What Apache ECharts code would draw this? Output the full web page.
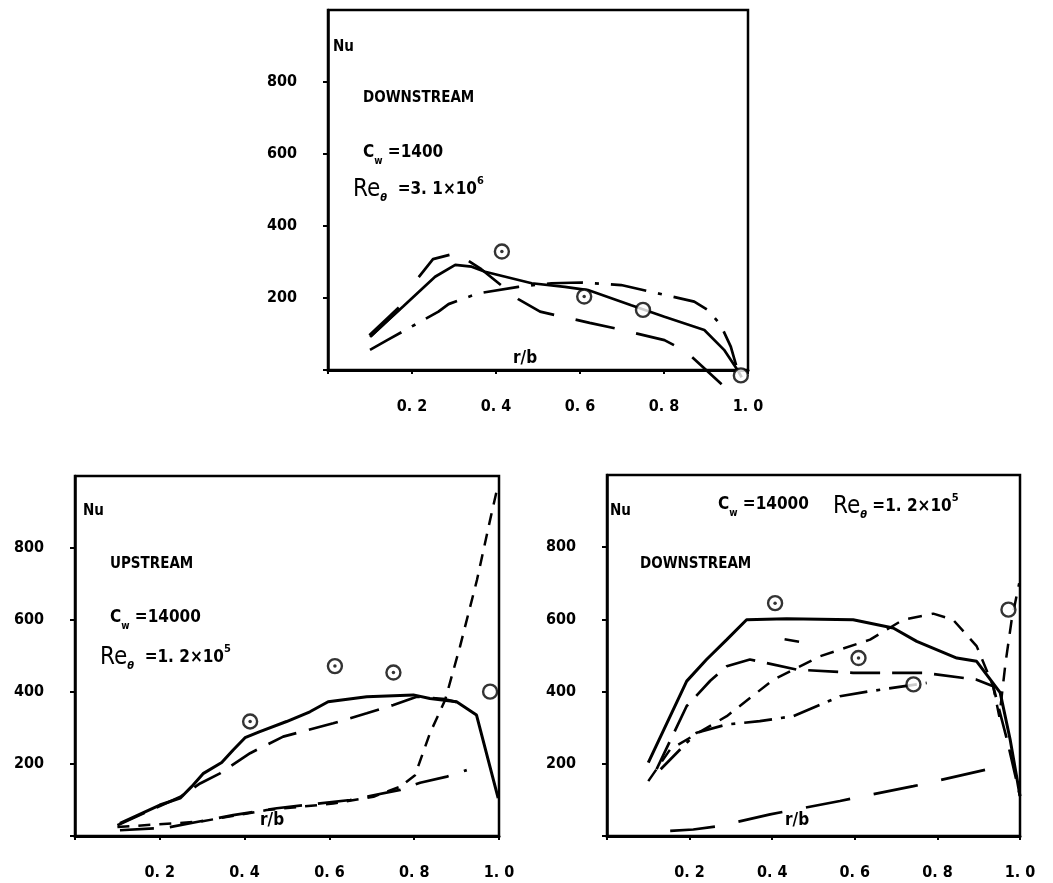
<!DOCTYPE html>
<html><head><meta charset="utf-8">
<script src="https://cdn.jsdelivr.net/npm/echarts@6/dist/echarts.min.js"></script>
<style>html,body{margin:0;padding:0;background:#fff}#c{width:1053px;height:883px}</style>
</head><body><div id="c"></div>
<script>
// tick labels
const xTicks = ['', '0. 2', '0. 4', '0. 6', '0. 8', '1. 0'];
const yTicks = ['', '200', '400', '600', '800', ''];
const yTickValues = [0, 200, 400, 600, 800];

// ---- Top panel: DOWNSTREAM, Cw=1400, Re=3.1e6 ----
const topSolid = [[0.10,92],[0.18,178],[0.255,259],[0.303,292],[0.342,287],[0.374,273],[0.485,241],[0.564,231],[0.619,222],[0.722,180],[0.801,148],[0.896,111],[0.943,56],[0.975,0],[0.985,-20]];
const topSolidBold = [[0.10,95],[0.17,172]];
const topLongDash = [[0.216,258],[0.25,308],[0.306,325],[0.365,280],[0.453,197],[0.505,162],[0.623,131],[0.683,116],[0.801,83],[0.853,51],[0.943,-46]];
const topChain = [[0.10,56],[0.141,83],[0.263,162],[0.287,183],[0.358,213],[0.453,231],[0.532,241],[0.603,243],[0.698,236],[0.785,213],[0.872,190],[0.904,167],[0.935,125],[0.959,65],[0.975,0]];
const topCircles = [[0.414,329],[0.610,204],[0.750,167],[0.983,-15]];
const topDots = [[0.414,329],[0.610,204]];

// ---- Bottom-left: UPSTREAM, Cw=14000, Re=1.2e5 ----
const blSolid = [[0.106,35],[0.20,86],[0.248,105],[0.275,137],[0.303,174],[0.346,204],[0.373,239],[0.401,273],[0.436,290],[0.499,318],[0.554,345],[0.597,373],[0.688,387],[0.798,392],[0.837,382],[0.90,373],[0.947,336],[0.998,105]];
const blLongDash = [[0.10,30],[0.25,110],[0.295,146],[0.342,174],[0.413,230],[0.491,276],[0.609,313],[0.688,341],[0.751,364],[0.806,387],[0.873,380],[0.90,372]];
const blShortDash = [[0.10,25],[0.295,40],[0.452,72],[0.609,90],[0.704,109],[0.767,137],[0.802,169],[0.837,285],[0.873,378],[0.908,526],[0.948,711],[0.979,878],[0.995,961]];
const blLowDash = [[0.106,16],[0.216,23],[0.373,58],[0.476,77],[0.649,100],[0.767,128],[0.814,148],[0.877,165],[0.924,183]];
const blCircles = [[0.413,318],[0.613,472],[0.751,454],[0.979,401]];
const blDots = [[0.413,318],[0.613,472],[0.751,454]];

// ---- Bottom-right: DOWNSTREAM, Cw=14000, Re=1.2e5 ----
const brSolid = [[0.10,203],[0.193,429],[0.241,489],[0.29,544],[0.338,599],[0.435,602],[0.596,599],[0.693,576],[0.75,539],[0.847,493],[0.895,484],[0.952,397],[0.976,268],[1.0,111]];
const brLongDash = [[0.12,185],[0.193,360],[0.25,430],[0.29,470],[0.346,489],[0.459,461],[0.596,452],[0.766,452],[0.895,433],[0.935,415],[0.97,260],[1.0,111]];
const brShortDash = [[0.10,152],[0.153,240],[0.29,332],[0.403,433],[0.516,498],[0.637,544],[0.717,599],[0.79,616],[0.838,599],[0.895,526],[0.935,415],[0.95,330],[0.965,480],[0.98,600],[0.998,700]];
const brChain = [[0.13,185],[0.217,286],[0.29,309],[0.37,318],[0.451,332],[0.564,387],[0.637,401],[0.774,424]];
const brFragment = [[0.43,545],[0.465,538]];
const brLowDash = [[0.153,14],[0.209,18],[0.274,28],[0.395,60],[0.564,97],[0.742,138],[0.919,184]];
const brCircles = [[0.407,645],[0.609,493],[0.742,420],[0.972,627]];
const brDots = [[0.407,645],[0.609,493]];

const FONT = "'DejaVu Sans Condensed','DejaVu Sans',sans-serif";
const grids = [
  {left:328, top:10, width:420, height:360},
  {left:75, top:476, width:424, height:360},
  {left:607, top:475, width:413, height:361}
];
const xAxes = grids.map((g,i)=>({
  type:'value', gridIndex:i, min:0, max:1, interval:0.2,
  axisLine:{show:true, onZero:false, lineStyle:{color:'#000', width:3}},
  axisTick:{show:true, length:4, lineStyle:{color:'#000', width:2}},
  splitLine:{show:false},
  axisLabel:{margin:29, color:'#000', fontFamily:FONT, fontSize:16, fontWeight:'bold',
    formatter:(v)=>xTicks[Math.round(v/0.2)]}
}));
const yAxes = grids.map((g,i)=>({
  type:'value', gridIndex:i, min:0, max:1000, interval:200,
  axisLine:{show:true, onZero:false, lineStyle:{color:'#000', width:2.5}},
  axisTick:{show:true, length:5, customValues:yTickValues, lineStyle:{color:'#000', width:2}},
  splitLine:{show:false},
  axisLabel:{margin:31, color:'#000', fontFamily:FONT, fontSize:16, fontWeight:'bold',
    formatter:(v)=>yTicks[Math.round(v/200)]}
}));

function line(data, gi, type, width, clip){
  return {type:'line', xAxisIndex:gi, yAxisIndex:gi, data, symbol:'none', silent:true,
    clip: clip, lineStyle:{color:'#000', width: width, type: type, cap:'butt'}};
}
function circles(data, gi){
  return {type:'scatter', xAxisIndex:gi, yAxisIndex:gi, data, symbol:'circle', symbolSize:14, clip:false, z:5,
    itemStyle:{color:'#fff', borderColor:'#000', borderWidth:2.4}};
}
function dots(data, gi){
  return {type:'scatter', xAxisIndex:gi, yAxisIndex:gi, data, symbol:'circle', symbolSize:3.5, clip:false, z:6,
    itemStyle:{color:'#000'}};
}

const series = [
  line(topSolid,0,'solid',2.7,false),
  line(topSolidBold,0,'solid',4.5,false),
  line(topLongDash,0,[40,22],2.7,false),
  line(topChain,0,[36,12,4,12],2.7,false),
  circles(topCircles,0), dots(topDots,0),

  line(blSolid,1,'solid',3,true),
  line(blLongDash,1,[30,13],2.7,true),
  line(blShortDash,1,[12,9],2.5,true),
  line(blLowDash,1,[34,16],2.7,true),
  circles(blCircles,1), dots(blDots,1),

  line(brSolid,2,'solid',3,true),
  line(brLongDash,2,[30,12],2.7,true),
  line(brShortDash,2,[14,10],2.5,true),
  line(brChain,2,[28,9,4,9],2.7,true),
  line(brFragment,2,'solid',2.7,true),
  line(brLowDash,2,[45,24],2.7,true),
  circles(brCircles,2), dots(brDots,2)
];

const rich = {
  n:{fontFamily:FONT, fontSize:17, fontWeight:'bold', color:'#000', lineHeight:26, verticalAlign:'middle'},
  s:{fontFamily:FONT, fontSize:10, fontWeight:'bold', color:'#000', lineHeight:4, verticalAlign:'bottom'},
  R:{fontFamily:FONT, fontSize:24, fontWeight:'normal', color:'#000', lineHeight:28, verticalAlign:'middle'},
  t:{fontFamily:FONT, fontSize:11, fontStyle:'italic', fontWeight:'bold', color:'#000', lineHeight:6, verticalAlign:'bottom'},
  m:{fontFamily:FONT, fontSize:17, fontWeight:'bold', color:'#000', lineHeight:28, verticalAlign:'middle'},
  p:{fontFamily:FONT, fontSize:11, fontWeight:'bold', color:'#000', lineHeight:18, verticalAlign:'top'}
};
function label(text, left, top, size){
  return {text, left, top, padding:0,
    textStyle:{fontFamily:FONT, fontSize:size||15, fontWeight:'bold', color:'#000', rich}};
}
const titles = [
  label('Nu', 333, 40, 15),
  label('DOWNSTREAM', 363, 91, 15),
  label('{n|C}{s|w}{n| =1400}', 363, 140),
  label('{R|Re}{t|θ}{m|  =3. 1×10}{p|6}', 353, 176),
  label('r/b', 513, 350, 17),

  label('Nu', 83, 504, 15),
  label('UPSTREAM', 110, 557, 15),
  label('{n|C}{s|w}{n| =14000}', 110, 605),
  label('{R|Re}{t|θ}{m|  =1. 2×10}{p|5}', 100, 644),
  label('r/b', 260, 812, 17),

  label('Nu', 610, 504, 15),
  label('{n|C}{s|w}{n| =14000}', 718, 492),
  label('{R|Re}{t|θ}{m| =1. 2×10}{p|5}', 833, 493),
  label('DOWNSTREAM', 640, 557, 15),
  label('r/b', 785, 812, 17)
];

const chart = echarts.init(document.getElementById('c'), null, {renderer:'canvas'});
chart.setOption({
  backgroundColor:'#fff',
  animation:false,
  title: titles,
  grid: grids.map(g=>Object.assign({show:true, borderColor:'#000', borderWidth:2.5, backgroundColor:'transparent'}, g)),
  xAxis: xAxes,
  yAxis: yAxes,
  series
});
</script></body></html>
